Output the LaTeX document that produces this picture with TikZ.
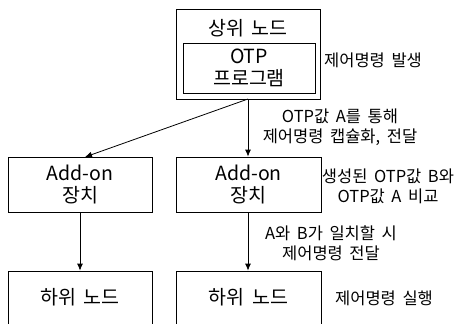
\documentclass[tikz,border=0pt]{standalone}
\usepackage{fontspec}
\setmainfont{Noto Sans CJK KR}
\usetikzlibrary{arrows.meta}
\newcommand\mywidesp{\spaceskip=0.4em\relax}
\begin{document}
\begin{tikzpicture}[x=1pt,y=-1pt,
  box/.style={draw,line width=0.8pt,inner sep=0pt,font=\fontsize{19.5}{23}\selectfont,execute at begin node=\mywidesp,align=center},
  lbl/.style={font=\fontsize{16.5}{20}\selectfont,execute at begin node=\mywidesp,align=center,inner sep=0pt},
  arr/.style={line width=0.8pt,-{Latex[length=7pt,width=6pt]}}]
\useasboundingbox (0,0) rectangle (458,324);
% top node
\node[box,minimum width=144pt,minimum height=90pt] (top) at (248,54) {};
\node[box,draw=none,anchor=center] (toplbl) at (248,28) {상위 노드};
\node[box,minimum width=132pt,minimum height=50pt] (otp) at (249,68) {OTP\\[-1pt]프로그램};
\node[lbl,anchor=west] (l1) at (324,60) {제어명령 발생};
% add-on boxes
\node[box,minimum width=144pt,minimum height=55pt] (addL) at (80,184.5) {Add-on\\[-1pt]장치};
\node[box,minimum width=145pt,minimum height=55pt] (addR) at (248.5,184.5) {Add-on\\[-1pt]장치};
% bottom boxes
\node[box,minimum width=144pt,minimum height=53pt] (botL) at (80,297.5) {하위 노드};
\node[box,minimum width=145pt,minimum height=53pt] (botR) at (248.5,297.5) {하위 노드};
% labels
\node[lbl] (l2) at (340,127) {OTP값 A를 통해\\제어명령 캡슐화, 전달};
\node[lbl] (l3) at (388,186) {생성된 OTP값 B와\\OTP값 A 비교};
\node[lbl] (l4) at (331,243) {A와 B가 일치할 시\\제어명령 전달};
\node[lbl,anchor=west] (l5) at (335,298) {제어명령 실행};
% arrows
\coordinate (s) at (248,99);
\coordinate (e) at (85,157);
\draw[arr] (s) -- (addR.north -| s);
\draw[arr] (s) -- (e);
\draw[arr] (addL.south) -- (botL.north);
\draw[arr] (addR.south -| s) -- (botR.north -| s);
\end{tikzpicture}
\end{document}
